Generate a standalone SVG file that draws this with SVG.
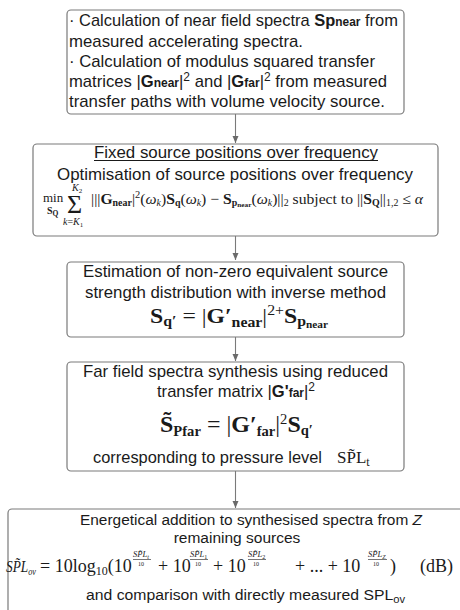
<svg xmlns="http://www.w3.org/2000/svg" width="460" height="610" viewBox="0 0 460 610">
<style>
.box{fill:#fff;stroke:#7a7a7a;stroke-width:1.2}
.t{font-family:"Liberation Sans",Arial,sans-serif;font-size:16.6px;fill:#1a1a1a}
.s{font-size:15.5px}
.m{font-family:"Liberation Serif","Times New Roman",serif;fill:#1a1a1a}
.b{font-weight:bold}
.i{font-style:italic}
.c{text-anchor:middle}
.con{stroke:#7a7a7a;stroke-width:1.1;fill:none}
</style>
<defs>
<marker id="ah" markerWidth="8" markerHeight="8" refX="7" refY="3" orient="auto" markerUnits="userSpaceOnUse">
<path d="M0,0 L7,3 L0,6 Z" fill="#6a6a6a"/>
</marker>
</defs>
<rect width="460" height="610" fill="#fff"/>
<g id="connectors">
<line class="con" x1="235.5" y1="114" x2="235.5" y2="143" marker-end="url(#ah)"/>
<line class="con" x1="235.5" y1="236" x2="235.5" y2="260" marker-end="url(#ah)"/>
<line class="con" x1="235.5" y1="337" x2="235.5" y2="361" marker-end="url(#ah)"/>
<line class="con" x1="235.5" y1="471" x2="235.5" y2="508" marker-end="url(#ah)"/>
</g>
<g id="n1">
<rect class="box" x="67" y="10" width="337" height="104" rx="4"/>
<text class="t" x="69" y="26" textLength="329" lengthAdjust="spacingAndGlyphs">· Calculation of near field spectra <tspan class="b">Sp</tspan><tspan class="b" font-size="12">near</tspan> from</text>
<text class="t" x="69" y="47" textLength="234" lengthAdjust="spacingAndGlyphs">measured accelerating spectra.</text>
<text class="t" x="69" y="67" textLength="306" lengthAdjust="spacingAndGlyphs">· Calculation of modulus squared transfer</text>
<text class="t" x="69" y="87" textLength="318" lengthAdjust="spacingAndGlyphs">matrices |<tspan class="b">G</tspan><tspan class="b" font-size="12">near</tspan>|<tspan font-size="12" dy="-6">2</tspan><tspan dy="6"> and |</tspan><tspan class="b">G</tspan><tspan class="b" font-size="12">far</tspan>|<tspan font-size="12" dy="-6">2</tspan><tspan dy="6"> from measured</tspan></text>
<text class="t" x="69" y="107" textLength="316" lengthAdjust="spacingAndGlyphs">transfer paths with volume velocity source.</text>
</g>
<g id="n2">
<rect class="box" x="33" y="144" width="405" height="92" rx="4"/>
<text class="t" x="94" y="158" textLength="284" lengthAdjust="spacingAndGlyphs">Fixed source positions over frequency</text>
<line x1="94" y1="160.5" x2="378" y2="160.5" stroke="#1a1a1a" stroke-width="1"/>
<text class="t" x="57" y="180" textLength="356" lengthAdjust="spacingAndGlyphs">Optimisation of source positions over frequency</text>
<text class="m" x="43" y="202" font-size="13">min</text>
<text class="m b" x="47" y="214" font-size="10">S<tspan font-size="7.5" dy="1.5">Q</tspan></text>
<text class="m" x="67" y="213" font-size="26">Σ</text>
<text class="m i" x="72" y="191" font-size="10">K<tspan font-size="7" dy="1.5" font-style="normal">2</tspan></text>
<text class="m i" x="63" y="225" font-size="10">k<tspan font-style="normal">=</tspan>K<tspan font-size="7" dy="1.5" font-style="normal">1</tspan></text>
<text class="m" x="91" y="204" font-size="15" textLength="332" lengthAdjust="spacingAndGlyphs">|||<tspan class="b">G</tspan><tspan class="b" font-size="9.5" dy="2">near</tspan><tspan dy="-2">|</tspan><tspan font-size="10" dy="-6">2</tspan><tspan dy="6">(</tspan><tspan class="i">ω</tspan><tspan class="i" font-size="9.5" dy="2">k</tspan><tspan dy="-2">)</tspan><tspan class="b">S</tspan><tspan class="b" font-size="9.5" dy="2">q</tspan><tspan dy="-2">(</tspan><tspan class="i">ω</tspan><tspan class="i" font-size="9.5" dy="2">k</tspan><tspan dy="-2">) − </tspan><tspan class="b">S</tspan><tspan class="b" font-size="9.5" dy="2">p</tspan><tspan class="b" font-size="7" dy="1">near</tspan><tspan dy="-3">(</tspan><tspan class="i">ω</tspan><tspan class="i" font-size="9.5" dy="2">k</tspan><tspan dy="-2">)||</tspan><tspan font-size="9.5" dy="2">2</tspan><tspan dy="-2"> subject to ||</tspan><tspan class="b">S</tspan><tspan class="b" font-size="9.5" dy="2">Q</tspan><tspan dy="-2">||</tspan><tspan font-size="9.5" dy="2">1,2</tspan><tspan dy="-2"> ≤ </tspan><tspan class="i">α</tspan></text>
</g>
<g id="n3">
<rect class="box" x="67" y="262" width="337" height="75" rx="4"/>
<text class="t" x="83" y="277" textLength="305" lengthAdjust="spacingAndGlyphs">Estimation of non-zero equivalent source</text>
<text class="t" x="85" y="298" textLength="301" lengthAdjust="spacingAndGlyphs">strength distribution with inverse method</text>
<text class="m b" x="150" y="323" font-size="21" textLength="178" lengthAdjust="spacingAndGlyphs">S<tspan font-size="14" dy="3">q′</tspan><tspan dy="-3" font-weight="normal"> = |</tspan>G′<tspan font-size="14" dy="4">near</tspan><tspan dy="-4" font-weight="normal">|</tspan><tspan font-size="14" dy="-8" font-weight="normal">2+</tspan><tspan dy="8">S</tspan><tspan font-size="14" dy="3">p</tspan><tspan font-size="10" dy="2">near</tspan></text>
</g>
<g id="n4">
<rect class="box" x="67" y="362" width="337" height="109" rx="4"/>
<text class="t" x="83" y="377" textLength="305" lengthAdjust="spacingAndGlyphs">Far field spectra synthesis using reduced</text>
<text class="t" x="157" y="397" textLength="158" lengthAdjust="spacingAndGlyphs">transfer matrix |<tspan class="b">G'</tspan><tspan class="b" font-size="12">far</tspan>|<tspan font-size="12" dy="-6">2</tspan></text>
<text class="m b" x="160" y="432" font-size="23" textLength="153" lengthAdjust="spacingAndGlyphs">S̃<tspan font-size="14" dy="4">Pfar</tspan><tspan dy="-4" font-weight="normal"> = |</tspan>G′<tspan font-size="14" dy="4">far</tspan><tspan dy="-4" font-weight="normal">|</tspan><tspan font-size="14" dy="-8" font-weight="normal">2</tspan><tspan dy="8">S</tspan><tspan font-size="14" dy="3">q′</tspan></text>
<text class="t" x="93" y="463" textLength="229" lengthAdjust="spacingAndGlyphs">corresponding to pressure level</text>
<text class="m" x="337" y="463" font-size="17">SP̃L<tspan font-size="12" dy="3">t</tspan></text>
</g>
<g id="n5">
<rect class="box" x="8" y="509" width="462" height="120" rx="4"/>
<text class="t s" x="80" y="525" textLength="342" lengthAdjust="spacingAndGlyphs">Energetical addition to synthesised spectra from <tspan font-style="italic">Z</tspan></text>
<text class="t s c" x="237" y="543">remaining sources</text>
<text class="m i" x="6" y="572" font-size="16" textLength="30" lengthAdjust="spacingAndGlyphs">SP̃L<tspan font-size="10" dy="3">ov</tspan></text>
<text class="m" x="40" y="572" font-size="18">= 10log<tspan font-size="12" dy="3">10</tspan><tspan dy="-3">(10</tspan></text>
<text class="m" x="158" y="572" font-size="18">+ 10</text>
<text class="m" x="213" y="572" font-size="18">+ 10</text>
<text class="m" x="295" y="572" font-size="18">+ ... + 10</text>
<text class="m" x="390" y="572" font-size="18">)</text>
<text class="m" x="420" y="572" font-size="18">(dB)</text>
<g class="m" font-size="8.5">
<text class="i" x="133" y="557">SP̃L<tspan font-size="6" dy="1.5">t</tspan></text>
<line x1="133" y1="559.5" x2="151" y2="559.5" stroke="#1a1a1a" stroke-width="0.6"/>
<text x="138" y="566" font-size="6">10</text>
<text class="i" x="190" y="557">SP̃L<tspan font-size="6" dy="1.5" font-style="normal">1</tspan></text>
<line x1="190" y1="559.5" x2="208" y2="559.5" stroke="#1a1a1a" stroke-width="0.6"/>
<text x="195" y="566" font-size="6">10</text>
<text class="i" x="248" y="557">SP̃L<tspan font-size="6" dy="1.5" font-style="normal">2</tspan></text>
<line x1="248" y1="559.5" x2="266" y2="559.5" stroke="#1a1a1a" stroke-width="0.6"/>
<text x="253" y="566" font-size="6">10</text>
<text class="i" x="368" y="557">SP̃L<tspan font-size="6" dy="1.5">Z</tspan></text>
<line x1="368" y1="559.5" x2="387" y2="559.5" stroke="#1a1a1a" stroke-width="0.6"/>
<text x="373" y="566" font-size="6">10</text>
</g>
<text class="t s" x="86" y="600" textLength="319" lengthAdjust="spacingAndGlyphs">and comparison with directly measured SPL<tspan font-size="11" dy="3">ov</tspan></text>
</g>
</svg>
